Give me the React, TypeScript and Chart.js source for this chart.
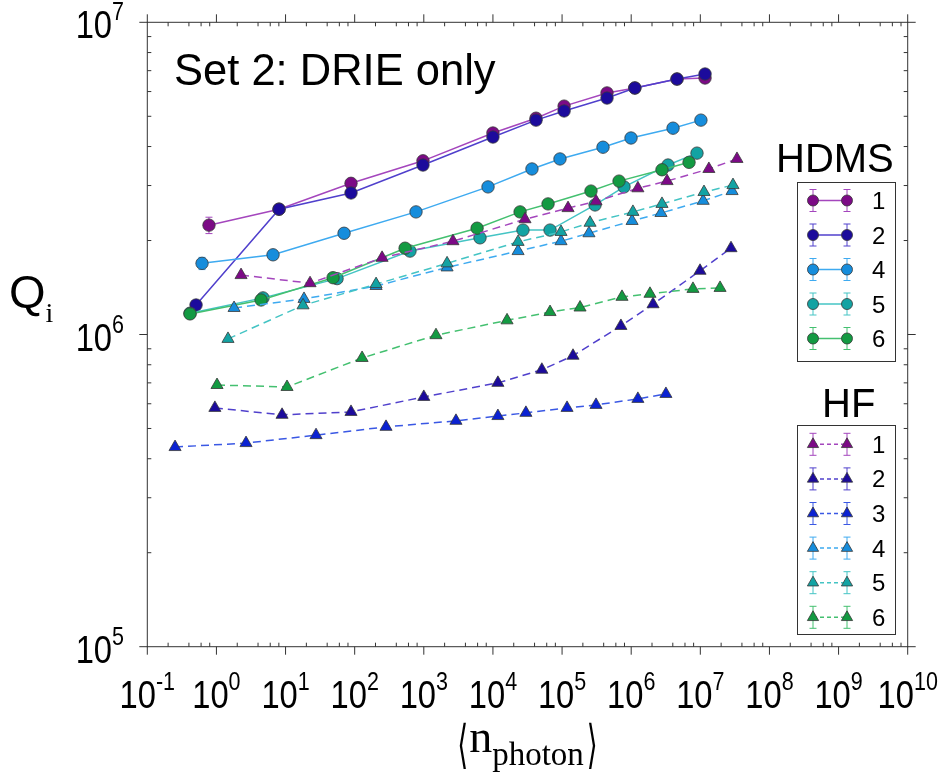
import React, { useEffect, useRef } from 'react';
import { Chart, registerables } from 'chart.js';

Chart.register(...registerables);

// ---- measured data: mean photon number vs internal quality factor ----
const hdms1X = [0.78, 8.05, 88.5, 973, 1.0e4, 4.2e4, 1.07e5, 4.47e5, 1.13e6, 4.6e6, 1.17e7];
const hdms1Y = [2.24e6, 2.52e6, 3.05e6, 3.6e6, 4.42e6, 4.93e6, 5.39e6, 5.94e6, 6.16e6, 6.58e6, 6.63e6];
const hdms1Err = [1.35e5];

const hdms2X = [0.507, 8.05, 88.5, 973, 1.0e4, 4.2e4, 1.07e5, 4.47e5, 1.13e6, 4.6e6, 1.17e7];
const hdms2Y = [1.243e6, 2.52e6, 2.84e6, 3.49e6, 4.29e6, 4.86e6, 5.2e6, 5.72e6, 6.16e6, 6.58e6, 6.83e6];

const hdms4X = [0.619, 6.59, 70.2, 771, 8.49e3, 3.67e4, 9.33e4, 3.91e5, 9.94e5, 4.03e6, 1.02e7];
const hdms4Y = [1.69e6, 1.8e6, 2.11e6, 2.47e6, 2.97e6, 3.39e6, 3.65e6, 3.98e6, 4.26e6, 4.58e6, 4.86e6];
const hdms4Err = [7.6e4];

const hdms5X = [0.415, 4.72, 55.6, 631, 6.5e3, 2.72e4, 6.7e4, 3.0e5, 7.87e5, 3.41e6, 8.95e6];
const hdms5Y = [1.17e6, 1.31e6, 1.51e6, 1.85e6, 2.04e6, 2.16e6, 2.16e6, 2.6e6, 2.97e6, 3.49e6, 3.81e6];

const hdms6X = [0.415, 4.42, 48.6, 536, 5.9e3, 2.47e4, 6.27e4, 2.62e5, 6.67e5, 2.79e6, 6.87e6];
const hdms6Y = [1.164e6, 1.29e6, 1.52e6, 1.89e6, 2.19e6, 2.47e6, 2.62e6, 2.88e6, 3.1e6, 3.37e6, 3.56e6];

const hf1X = [2.27, 22.6, 249, 2.64e3, 2.91e4, 1.22e5, 3.1e5, 1.25e6, 3.3e6, 1.33e7, 3.39e7];
const hf1Y = [1.55e6, 1.46e6, 1.76e6, 1.99e6, 2.34e6, 2.54e6, 2.67e6, 2.94e6, 3.1e6, 3.39e6, 3.65e6];

const hf2X = [0.95, 8.9, 88.5, 1.0e3, 1.18e4, 5.1e4, 1.44e5, 7.1e5, 2.07e6, 9.9e6, 2.78e7];
const hf2Y = [5.82e5, 5.53e5, 5.65e5, 6.31e5, 7.0e5, 7.71e5, 8.55e5, 1.065e6, 1.25e6, 1.6e6, 1.89e6];

const hf3X = [0.252, 2.68, 27.6, 284, 2.92e3, 1.18e4, 3.0e4, 1.18e5, 3.1e5, 1.25e6, 3.18e6];
const hf3Y = [4.36e5, 4.49e5, 4.76e5, 5.06e5, 5.29e5, 5.48e5, 5.61e5, 5.82e5, 5.95e5, 6.22e5, 6.45e5];

const hf4X = [1.8, 18.5, 204, 2.17e3, 2.31e4, 9.66e4, 2.45e5, 1.03e6, 2.7e6, 1.1e7, 2.88e7];
const hf4Y = [1.216e6, 1.3e6, 1.43e6, 1.64e6, 1.85e6, 1.99e6, 2.11e6, 2.31e6, 2.45e6, 2.68e6, 2.88e6];

const hf5X = [1.47, 17.9, 204, 2.17e3, 2.31e4, 9.66e4, 2.54e5, 1.06e6, 2.79e6, 1.13e7, 2.97e7];
const hf5Y = [9.68e5, 1.24e6, 1.45e6, 1.69e6, 1.98e6, 2.13e6, 2.28e6, 2.47e6, 2.62e6, 2.86e6, 3.01e6];

const hf6X = [1.02, 10.5, 128, 1.5e3, 1.6e4, 6.7e4, 1.82e5, 7.36e5, 1.87e6, 7.83e6, 1.93e7];
const hf6Y = [6.89e5, 6.79e5, 8.41e5, 9.95e5, 1.11e6, 1.18e6, 1.22e6, 1.32e6, 1.35e6, 1.4e6, 1.41e6];

// ---- axes ----
const xMin = 1e-1;
const xMax = 1e10;
const yMin = 1e5;
const yMax = 1e7;
const xTickExps = ['-1', '0', '1', '2', '3', '4', '5', '6', '7', '8', '9', '10'];
const yTickExps = ['5', '6', '7'];
const xMinorMult = [2, 4, 6, 8];
const yMinorMult = [2, 3, 4, 5, 6, 7, 8, 9];

// ---- legend groups ----
const hdmsLabels = ['1', '2', '4', '5', '6'];
const hfLabels = ['1', '2', '3', '4', '5', '6'];

const PURPLE = { fill: '#7c0a86', line: '#a446bd' };
const NAVY = { fill: '#1c0b9c', line: '#5040cc' };
const BLUE = { fill: '#0b22d2', line: '#3a58e4' };
const SKY = { fill: '#168ddc', line: '#3eaaf0' };
const TEAL = { fill: '#13a3a3', line: '#44c4c4' };
const GREEN = { fill: '#139a42', line: '#44c070' };

const SANS = '"Liberation Sans", Arial, Helvetica, sans-serif';
const SERIF = '"Liberation Serif", "DejaVu Serif", "Times New Roman", serif';
const MARK_EDGE = '#383838';
const FRAME = '#333333';

type Series = {
  group: 'HDMS' | 'HF';
  name: string;
  x: number[];
  y: number[];
  err: number[];
  fill: string;
  line: string;
};

const SERIES: Series[] = [
  { group: 'HDMS', name: hdmsLabels[0], x: hdms1X, y: hdms1Y, err: hdms1Err, ...PURPLE },
  { group: 'HDMS', name: hdmsLabels[1], x: hdms2X, y: hdms2Y, err: [], ...NAVY },
  { group: 'HDMS', name: hdmsLabels[2], x: hdms4X, y: hdms4Y, err: hdms4Err, ...SKY },
  { group: 'HDMS', name: hdmsLabels[3], x: hdms5X, y: hdms5Y, err: [], ...TEAL },
  { group: 'HDMS', name: hdmsLabels[4], x: hdms6X, y: hdms6Y, err: [], ...GREEN },
  { group: 'HF', name: hfLabels[0], x: hf1X, y: hf1Y, err: [], ...PURPLE },
  { group: 'HF', name: hfLabels[1], x: hf2X, y: hf2Y, err: [], ...NAVY },
  { group: 'HF', name: hfLabels[2], x: hf3X, y: hf3Y, err: [], ...BLUE },
  { group: 'HF', name: hfLabels[3], x: hf4X, y: hf4Y, err: [], ...SKY },
  { group: 'HF', name: hfLabels[4], x: hf5X, y: hf5Y, err: [], ...TEAL },
  { group: 'HF', name: hfLabels[5], x: hf6X, y: hf6Y, err: [], ...GREEN },
];

function line(ctx: CanvasRenderingContext2D, x1: number, y1: number, x2: number, y2: number) {
  ctx.beginPath();
  ctx.moveTo(x1, y1);
  ctx.lineTo(x2, y2);
  ctx.stroke();
}

function marker(ctx: CanvasRenderingContext2D, kind: 'circle' | 'triangle', x: number, y: number, r: number, fill: string) {
  ctx.beginPath();
  if (kind === 'circle') {
    ctx.arc(x, y, r, 0, Math.PI * 2);
  } else {
    const s = Math.sin(Math.PI / 3) * r;
    ctx.moveTo(x, y - r);
    ctx.lineTo(x + s, y + r / 2);
    ctx.lineTo(x - s, y + r / 2);
    ctx.closePath();
  }
  ctx.fillStyle = fill;
  ctx.fill();
  ctx.strokeStyle = MARK_EDGE;
  ctx.lineWidth = 0.8;
  ctx.stroke();
}

function errorBar(ctx: CanvasRenderingContext2D, x: number, y1: number, y2: number, color: string) {
  ctx.strokeStyle = color;
  ctx.lineWidth = 1;
  ctx.setLineDash([]);
  line(ctx, x, y1, x, y2);
  line(ctx, x - 3.5, y1, x + 3.5, y1);
  line(ctx, x - 3.5, y2, x + 3.5, y2);
}

// "10" with a raised exponent, drawn in a narrow face
function powerLabel(ctx: CanvasRenderingContext2D, exp: string, x: number, base: number, anchor: 'center' | 'right') {
  const K = 0.86;
  const big = `38px ${SANS}`;
  const small = `25px ${SANS}`;
  ctx.font = big;
  const w10 = ctx.measureText('10').width * K;
  ctx.font = small;
  const wExp = ctx.measureText(exp).width * K;
  const total = w10 + wExp;
  const x0 = anchor === 'center' ? x - total / 2 : x - total;
  ctx.fillStyle = '#000';
  ctx.textAlign = 'left';
  ctx.textBaseline = 'alphabetic';
  ctx.save();
  ctx.translate(x0, base);
  ctx.scale(K, 1);
  ctx.font = big;
  ctx.fillText('10', 0, 0);
  ctx.restore();
  ctx.save();
  ctx.translate(x0 + w10, base - 18);
  ctx.scale(K, 1);
  ctx.font = small;
  ctx.fillText(exp, 0, 0);
  ctx.restore();
}

// tall, thin angle bracket for the axis title
function bracket(ctx: CanvasRenderingContext2D, ch: string, x: number, base: number): number {
  const SX = 0.7;
  const SY = 1.3;
  ctx.save();
  ctx.font = `40px "DejaVu Sans", ${SANS}`;
  const w = ctx.measureText(ch).width * SX;
  ctx.translate(x, base);
  ctx.scale(SX, SY);
  ctx.fillText(ch, 0, 0);
  ctx.restore();
  return w;
}

const decorations = {
  id: 'decorations',
  beforeDatasetsDraw(chart: any) {
    const ctx: CanvasRenderingContext2D = chart.ctx;
    const xs = chart.scales.x;
    const ys = chart.scales.y;
    ctx.save();
    SERIES.forEach((s) => {
      s.err.forEach((e, i) => {
        if (!e) return;
        const px = xs.getPixelForValue(s.x[i]);
        errorBar(ctx, px, ys.getPixelForValue(s.y[i] + e), ys.getPixelForValue(s.y[i] - e), s.line);
      });
    });
    ctx.restore();
  },
  afterDraw(chart: any) {
    const ctx: CanvasRenderingContext2D = chart.ctx;
    const xs = chart.scales.x;
    const ys = chart.scales.y;
    const { left, right, top, bottom } = chart.chartArea;
    ctx.save();

    // frame
    ctx.strokeStyle = FRAME;
    ctx.lineWidth = 1;
    ctx.setLineDash([]);
    ctx.strokeRect(left, top, right - left, bottom - top);

    // x ticks: majors point outward, minors inward
    xTickExps.forEach((e, k) => {
      const v = Math.pow(10, Number(e));
      const px = xs.getPixelForValue(v);
      line(ctx, px, bottom, px, bottom + 8);
      line(ctx, px, top, px, top - 8);
      if (k < xTickExps.length - 1) {
        xMinorMult.forEach((m) => {
          const p = xs.getPixelForValue(m * v);
          line(ctx, p, bottom, p, bottom - 4);
          line(ctx, p, top, p, top + 4);
        });
      }
      powerLabel(ctx, e, px, bottom + 61, 'center');
    });

    // y ticks
    yTickExps.forEach((e, k) => {
      const v = Math.pow(10, Number(e));
      const py = ys.getPixelForValue(v);
      line(ctx, left, py, left - 8, py);
      line(ctx, right, py, right + 8, py);
      if (k < yTickExps.length - 1) {
        yMinorMult.forEach((m) => {
          const p = ys.getPixelForValue(m * v);
          line(ctx, left, p, left + 4, p);
          line(ctx, right, p, right - 4, p);
        });
      }
      powerLabel(ctx, e, 124, py + 16, 'right');
    });

    // axis titles
    ctx.fillStyle = '#000';
    ctx.textAlign = 'left';
    ctx.textBaseline = 'alphabetic';
    ctx.font = `47px ${SANS}`;
    ctx.fillText('Q', 9, 308);
    const qW = ctx.measureText('Q').width;
    ctx.font = `28px ${SERIF}`;
    ctx.fillText('i', 9 + qW, 322);

    const nFont = `46px ${SERIF}`;
    const subFont = `33px ${SERIF}`;
    ctx.font = `40px "DejaVu Sans", ${SANS}`;
    const wBr = ctx.measureText('\u27E8').width * 0.7;
    ctx.font = nFont;
    const wN = ctx.measureText('n').width;
    ctx.font = subFont;
    const wSub = ctx.measureText('photon').width;
    const totalW = wBr * 2 + wN + wSub + 4;
    let tx = (left + right) / 2 - totalW / 2;
    tx += bracket(ctx, '\u27E8', tx, 762);
    tx += 1;
    ctx.font = nFont;
    ctx.fillText('n', tx, 752);
    tx += wN;
    ctx.font = subFont;
    ctx.fillText('photon', tx, 765);
    tx += wSub + 3;
    bracket(ctx, '\u27E9', tx, 762);

    // panel caption
    ctx.font = `43.5px ${SANS}`;
    ctx.fillText('Set 2: DRIE only', 174, 85);

    // legends
    const drawLegend = (group: 'HDMS' | 'HF', title: string, titleX: number, titleY: number,
      boxTop: number, boxBottom: number, firstRow: number, step: number) => {
      ctx.fillStyle = '#000';
      ctx.font = `40px ${SANS}`;
      ctx.fillText(title, titleX, titleY);
      ctx.strokeStyle = FRAME;
      ctx.lineWidth = 1;
      ctx.setLineDash([]);
      ctx.strokeRect(797.5, boxTop + 0.5, 98, boxBottom - boxTop);
      const items = SERIES.filter((s) => s.group === group);
      items.forEach((s, i) => {
        const y = firstRow + i * step;
        const x1 = 813;
        const x2 = 847;
        ctx.strokeStyle = s.line;
        ctx.lineWidth = 1.5;
        ctx.setLineDash(group === 'HF' ? [4, 3] : []);
        line(ctx, x1, y, x2, y);
        ctx.setLineDash([]);
        errorBar(ctx, x1, y - 11, y + 11, s.line);
        errorBar(ctx, x2, y - 11, y + 11, s.line);
        const kind = group === 'HDMS' ? 'circle' : 'triangle';
        marker(ctx, kind, x1, y, group === 'HDMS' ? 5.5 : 6.5, s.fill);
        marker(ctx, kind, x2, y, group === 'HDMS' ? 5.5 : 6.5, s.fill);
        ctx.fillStyle = '#000';
        ctx.font = `24px ${SANS}`;
        ctx.fillText(s.name, 872, y + 8.5);
      });
    };
    drawLegend('HDMS', 'HDMS', 776, 172, 182, 361, 200.5, 34.5);
    drawLegend('HF', 'HF', 822, 417, 425, 634, 444.3, 34.6);

    ctx.restore();
  },
};

export default function App() {
  const canvasRef = useRef<HTMLCanvasElement | null>(null);

  useEffect(() => {
    const canvas = canvasRef.current;
    if (!canvas) return;
    const datasets = SERIES.map((s, i) => ({
      label: `${s.group} ${s.name}`,
      data: s.x.map((v, k) => ({ x: v, y: s.y[k] })),
      borderColor: s.line,
      borderWidth: 1.5,
      borderDash: s.group === 'HF' ? [8, 5] : [],
      pointStyle: s.group === 'HDMS' ? 'circle' : 'triangle',
      pointRadius: s.group === 'HDMS' ? 6.2 : 7,
      pointBackgroundColor: s.fill,
      pointBorderColor: MARK_EDGE,
      pointBorderWidth: 0.8,
      tension: 0,
      fill: false,
      order: -i,
    }));
    const chart = new Chart(canvas, {
      type: 'line',
      data: { datasets },
      options: {
        animation: false,
        responsive: false,
        devicePixelRatio: 1,
        layout: { padding: { left: 147.3, top: 22.3, right: 41.3, bottom: 129.3 } },
        scales: {
          x: { type: 'logarithmic', min: xMin, max: xMax, display: false },
          y: { type: 'logarithmic', min: yMin, max: yMax, display: false },
        },
        plugins: { legend: { display: false }, tooltip: { enabled: false } },
      },
      plugins: [decorations],
    } as any);
    return () => chart.destroy();
  }, []);

  return (
    <div style={{ position: 'fixed', left: 0, top: 0, width: 949, height: 776, background: '#fff' }}>
      <canvas ref={canvasRef} width={949} height={776} style={{ width: 949, height: 776, display: 'block' }} />
    </div>
  );
}
